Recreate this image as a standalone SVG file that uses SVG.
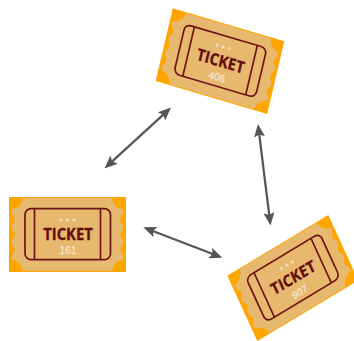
<svg xmlns="http://www.w3.org/2000/svg" width="354" height="341" viewBox="0 0 354 341">
<style>
.base{fill:#ffa500}
.tan{fill:#e6b96f}
.frame{fill:none;stroke:#701515;stroke-width:1.7}
.t{font-family:"Open Sans","Noto Sans",sans-serif;font-weight:700;font-size:16.5px;fill:#650c0c;stroke:#650c0c;stroke-width:.3;text-anchor:middle}
.s{font-family:"DejaVu Sans",sans-serif;font-size:6px;fill:#f1e0c0;text-anchor:middle;letter-spacing:1px}
.n{font-family:"Liberation Sans",Arial,sans-serif;font-size:10.3px;fill:#f9f0e0;text-anchor:middle}
.c{fill:none;stroke:#555;stroke-width:2.2;marker-start:url(#h);marker-end:url(#h)}
</style>
<defs>
<marker id="h" markerUnits="userSpaceOnUse" viewBox="0 0 13 11" refX="7" refY="5.5" markerWidth="13" markerHeight="11" orient="auto-start-reverse"><path d="M0 0L13 5.5L0 11L2.5 5.5Z" fill="#555"/></marker>
<g id="ticket">
<rect class="base" x="-58.5" y="-37.5" width="117" height="75"/>
<path class="tan" d="M-44.5-36.5H44.5A13 13 0 0 0 55.5-25V-20A6 6 0 0 0 55.5-10V-5A6 6 0 0 0 55.5 5V10A6 6 0 0 0 55.5 20V25A13 13 0 0 0 44.5 36.5H-44.5A13 13 0 0 0-55.5 25V20A6 6 0 0 0-55.5 10V5A6 6 0 0 0-55.5-5V-10A6 6 0 0 0-55.5-20V-25A13 13 0 0 0-44.5-36.5Z"/>
<rect class="frame" x="-42.5" y="-25.8" width="85.5" height="51" rx="6"/>
<path class="frame" d="M-33-25.8V25.2M33-25.8V25.2"/>
</g>
</defs>
<g id="connectors">
<path class="c" d="M108.9 164.4L166.6 111.6"/>
<path class="c" d="M258.7 130L269.8 219.5"/>
<path class="c" d="M148.9 229.5L216.7 255.5"/>
</g>
<g id="ticket-161" transform="translate(67.5 234.5)">
<use href="#ticket"/>
<text class="s" x="0.5" y="-12.7">★★★</text>
<text class="t" x="0.5" y="5.5" textLength="49.5" lengthAdjust="spacingAndGlyphs">TICKET</text>
<text class="n" x="0.5" y="19.8">161</text>
</g>
<g id="ticket-406" transform="matrix(.953 .282 -.228 .969 220 61.1)">
<use href="#ticket"/>
<text class="s" x="0.5" y="-12.7">★★★</text>
<text class="t" x="0.5" y="5.5" textLength="49.5" lengthAdjust="spacingAndGlyphs">TICKET</text>
<text class="n" x="0.5" y="19.8">406</text>
</g>
<g id="ticket-907" transform="matrix(.863 -.519 .4 .871 292.8 278)">
<use href="#ticket"/>
<text class="s" x="0.5" y="-12.7">★★★</text>
<text class="t" x="0.5" y="5.5" textLength="49.5" lengthAdjust="spacingAndGlyphs">TICKET</text>
<text class="n" x="0.5" y="19.8">907</text>
</g>
</svg>
